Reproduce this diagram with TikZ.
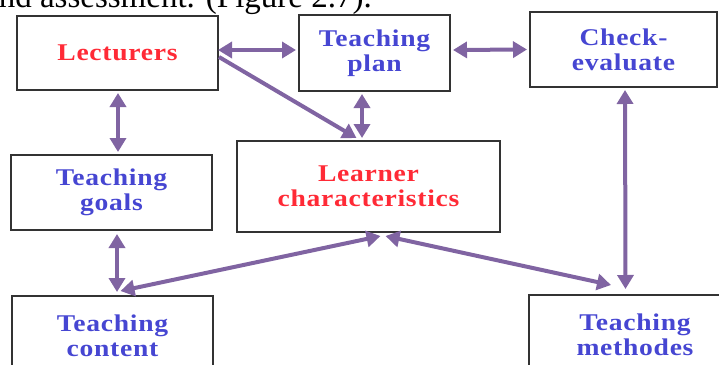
\documentclass[tikz,border=0pt]{standalone}
\usepackage{fontspec}
\usetikzlibrary{arrows.meta}
\setmainfont{Liberation Serif}
\newfontfamily\boxfont{Liberation Serif}[FakeStretch=1.15, LetterSpace=3]
\definecolor{linkpurple}{HTML}{8064A2}
\definecolor{labelred}{HTML}{FF2A36}
\definecolor{labelblue}{HTML}{4646D2}
\definecolor{edgegray}{HTML}{333333}
\tikzset{
  box/.style={draw=edgegray, line width=2pt, fill=white, inner sep=0pt,
    align=center, font=\boxfont\bfseries\fontsize{24}{25}\selectfont},
  redbox/.style={box, text=labelred},
  bluebox/.style={box, text=labelblue},
  conn/.style={draw=linkpurple, line width=4pt,
    {Triangle[length=14pt,width=16pt]}-{Triangle[length=14pt,width=16pt]}},
  oneway/.style={draw=linkpurple, line width=4pt,
    -{Triangle[length=14pt,width=16pt]}}
}
\begin{document}
\begin{tikzpicture}[x=1pt, y=-1pt]
\useasboundingbox (0,0) rectangle (719,364);
\clip (0,0) rectangle (719,364);

% running text line above the chart
\node[anchor=base east, font=\fontsize{33}{36}\selectfont, inner sep=0pt]
  (caption) at (372,7) {and assessment. (Figure 2.7).};

% boxes
\node[redbox,  minimum width=201pt, minimum height=74pt] (lect)    at (117.5,53)  {Lecturers};
\node[bluebox, minimum width=151pt, minimum height=76pt] (plan)    at (374.5,53)  {Teaching\\plan};
\node[bluebox, minimum width=187pt, minimum height=75pt] (check)   at (623.5,49.5){Check-\\evaluate};
\node[bluebox, minimum width=201pt, minimum height=75pt] (goals)   at (111.5,192.5){Teaching\\goals};
\node[redbox,  minimum width=263pt, minimum height=91pt] (learner) at (368.5,186.5){Learner\\characteristics};
\node[bluebox, minimum width=201pt, minimum height=80pt] (content) at (112.5,336)  {Teaching\\content};
\node[bluebox, minimum width=212pt, minimum height=80pt] (methods) at (635,335)    {Teaching\\methodes};

% connectors
\draw[conn] ([xshift=-1pt,yshift=3pt]lect.east) -- ([xshift=-2pt,yshift=3pt]plan.west);
\draw[oneway] ([yshift=-4pt]lect.east) -- ([xshift=-12pt,yshift=2pt]learner.north);
\draw[conn] ([xshift=-12.5pt,yshift=-2pt]plan.south) -- ([xshift=-6.5pt,yshift=2pt]learner.north);
\draw[conn] ([xshift=2pt,yshift=3pt]plan.east) -- ([xshift=-2pt]check.west);
\draw[conn] ([xshift=0.5pt,yshift=-2pt]lect.south) -- ([xshift=6.5pt,yshift=2pt]goals.north);
\draw[conn] ([xshift=5.5pt,yshift=-3pt]goals.south) -- ([xshift=4.5pt,yshift=3pt]content.north);
\draw[conn] ([xshift=12pt,yshift=-3pt]learner.south) -- ([xshift=8pt,yshift=4pt]content.north);
\draw[conn] ([xshift=17pt,yshift=-3pt]learner.south) -- ([xshift=-24pt,yshift=9pt]methods.north);
\draw[conn] ([xshift=1.5pt,yshift=-2pt]check.south) -- ([xshift=-9.5pt,yshift=5pt]methods.north);
\end{tikzpicture}
\end{document}
